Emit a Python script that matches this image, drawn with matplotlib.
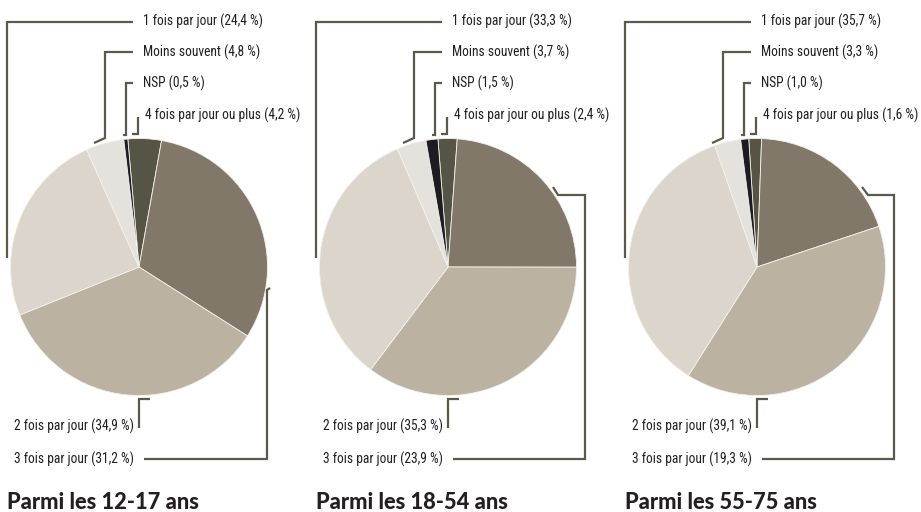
import matplotlib
matplotlib.use("Agg")
import matplotlib.pyplot as plt
from matplotlib import font_manager

# data
groups = ["Parmi les 12-17 ans", "Parmi les 18-54 ans", "Parmi les 55-75 ans"]
categories = ["4 fois par jour ou plus", "3 fois par jour", "2 fois par jour",
              "1 fois par jour", "Moins souvent", "NSP"]
shares_12_17 = [4.2, 31.2, 34.9, 24.4, 4.8, 0.5]
shares_18_54 = [2.4, 23.9, 35.3, 33.3, 3.7, 1.5]
shares_55_75 = [1.6, 19.3, 39.1, 35.7, 3.3, 1.0]
all_shares = [shares_12_17, shares_18_54, shares_55_75]

colors = ["#565545", "#82786a", "#bbb2a2", "#dbd5cc", "#e5e1dc", "#1e1c21"]
line_col = "#5b5a4a"
text_col = "#231f20"

# pick a narrow face if one is around
fonts = font_manager.fontManager.ttflist
narrow = None
for want in ["Roboto Condensed", "Liberation Sans Narrow", "Open Sans Condensed",
             "Noto Sans Condensed"]:
    if any(f.name == want for f in fonts):
        narrow = dict(family=want)
        break
if narrow is None:
    cond = [f for f in fonts if f.name == "DejaVu Sans" and "ondensed" in str(f.stretch)
            or "Condensed" in f.fname]
    if cond:
        narrow = dict(fname=cond[0].fname)
if narrow is None:
    narrow = dict(family="Roboto")
label_font = font_manager.FontProperties(**narrow)
title_font = font_manager.FontProperties(family="Lato", weight=900)

W, H = 921, 512
fig = plt.figure(figsize=(W / 100, H / 100), dpi=100)
ax = fig.add_axes([0, 0, 1, 1])
renderer = fig.canvas.get_renderer()


def fit_size(s, fp, width_px):
    t = fig.text(0, 0, s, fontproperties=fp, fontsize=10)
    w = t.get_window_extent(renderer).width
    t.remove()
    return 10 * width_px / w


label_size = min(1.03 * fit_size("1 fois par jour (24,4 %)", label_font, 116), 13)
title_size = fit_size("Parmi les 12-17 ans", title_font, 192)

centers_x = [139, 448, 757]
cy_img = 267
radius = 128.5
start_angles = [95, 94.5, 93.7]


def fmt(v):
    return f"{v:.1f}".replace(".", ",") + " %"


def route(cx, pts):
    # pts relative to pie center in image coords (y down)
    xs = [cx + p[0] for p in pts]
    ys = [H - (cy_img + p[1]) for p in pts]
    ax.plot(xs, ys, color=line_col, lw=1.6, solid_joinstyle="miter",
            solid_capstyle="butt")


def label(x, y, s, ha):
    ax.text(x, H - y, s, ha=ha, va="center", fontproperties=label_font,
            fontsize=label_size, color=text_col)


# leader line routes (layout)
left_routes = {
    "1 fois par jour": ((4, -245.5), [(-6, -245.5), (-132, -245.5), (-132, -9)]),
    "Moins souvent": ((4, -215), [(-6, -215), (-34, -215), (-34, -129), (-45, -124)]),
    "NSP": ((4, -184), [(-6, -184), (-13, -184), (-13, -132), (-16, -132)]),
    "4 fois par jour ou plus": ((6, -152), [(-1, -150), (-1, -133), (-7, -133)]),
}
two_route = ((-5, 159), [(0, 161), (0, 132), (11, 132)])
three_routes = [
    [(5, 192), (128, 192), (128, 23), (131, 21)],
    [(5, 192), (137, 192), (137, -72), (110, -72), (105, -80)],
    [(5, 192), (137, 192), (137, -72), (111, -72), (105, -80)],
]

for i, (cx, shares) in enumerate(zip(centers_x, all_shares)):
    ax.pie(shares, colors=colors, startangle=start_angles[i], counterclock=False,
           center=(cx, H - cy_img), radius=radius, frame=True,
           wedgeprops=dict(edgecolor="#f4f2ee", linewidth=0.6))

    lookup = dict(zip(categories, shares))
    for cat, (tpos, pts) in left_routes.items():
        route(cx, pts)
        label(cx + tpos[0], cy_img + tpos[1], f"{cat} ({fmt(lookup[cat])})", "left")

    route(cx, two_route[1])
    label(cx + two_route[0][0], cy_img + two_route[0][1],
          f"2 fois par jour ({fmt(lookup['2 fois par jour'])})", "right")

    route(cx, three_routes[i])
    label(cx - 5, cy_img + 192,
          f"3 fois par jour ({fmt(lookup['3 fois par jour'])})", "right")

    ax.text(cx - 132, H - 502.5, groups[i], ha="left", va="center",
            fontproperties=title_font, fontsize=title_size, color=text_col)

ax.set_xlim(0, W)
ax.set_ylim(0, H)
ax.set_aspect("equal")
ax.axis("off")

fig.savefig("out.png", dpi=100, facecolor="white")
